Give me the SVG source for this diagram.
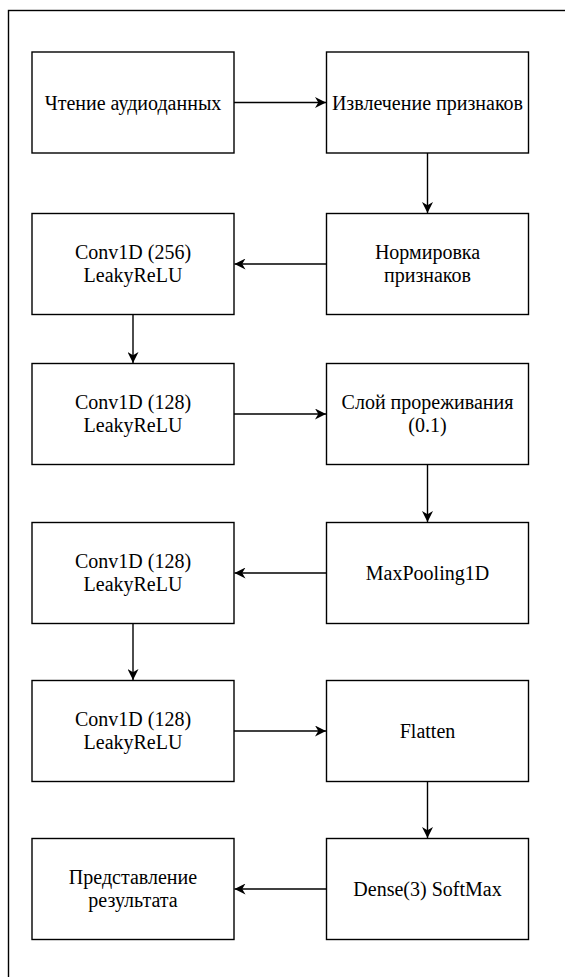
<svg xmlns="http://www.w3.org/2000/svg" width="565" height="977" viewBox="0 0 565 977">
<style>
.box{fill:#fff;stroke:#000;stroke-width:1.4}
.lbl{font-family:'Liberation Serif','DejaVu Serif',serif;font-size:20px;fill:#000;text-anchor:middle}
.edge{fill:none;stroke:#000;stroke-width:1.4}
</style>
<defs>
<marker id="arr" viewBox="0 0 10 10" refX="10" refY="5" markerWidth="12" markerHeight="11" markerUnits="userSpaceOnUse" orient="auto">
<path d="M0,0 L10,5 L0,10 L3,5 Z" fill="#000"/>
</marker>
</defs>
<rect x="0" y="0" width="565" height="977" fill="#fff"/>
<rect id="frame" x="8.5" y="10.5" width="600" height="1000" fill="none" stroke="#000" stroke-width="1.4"/>
<g id="n1"><rect class="box" x="32" y="52" width="202" height="101"/><text class="lbl" x="133" y="110">Чтение аудиоданных</text></g>
<g id="n2"><rect class="box" x="326.5" y="52" width="202" height="101"/><text class="lbl" x="427.5" y="110">Извлечение признаков</text></g>
<g id="n3"><rect class="box" x="326.5" y="213.5" width="202" height="101"/><text class="lbl" x="427.5" y="259">Нормировка</text><text class="lbl" x="427.5" y="282">признаков</text></g>
<g id="n4"><rect class="box" x="32" y="213.5" width="202" height="101"/><text class="lbl" x="133" y="259">Conv1D (256)</text><text class="lbl" x="133" y="282">LeakyReLU</text></g>
<g id="n5"><rect class="box" x="32" y="363.5" width="202" height="101"/><text class="lbl" x="133" y="409">Conv1D (128)</text><text class="lbl" x="133" y="432">LeakyReLU</text></g>
<g id="n6"><rect class="box" x="326.5" y="363.5" width="202" height="101"/><text class="lbl" x="427.5" y="409">Слой прореживания</text><text class="lbl" x="427.5" y="432">(0.1)</text></g>
<g id="n7"><rect class="box" x="326.5" y="522.5" width="202" height="101"/><text class="lbl" x="427.5" y="580">MaxPooling1D</text></g>
<g id="n8"><rect class="box" x="32" y="522.5" width="202" height="101"/><text class="lbl" x="133" y="568">Conv1D (128)</text><text class="lbl" x="133" y="591">LeakyReLU</text></g>
<g id="n9"><rect class="box" x="32" y="680.5" width="202" height="101"/><text class="lbl" x="133" y="726">Conv1D (128)</text><text class="lbl" x="133" y="749">LeakyReLU</text></g>
<g id="n10"><rect class="box" x="326.5" y="680.5" width="202" height="101"/><text class="lbl" x="427.5" y="738">Flatten</text></g>
<g id="n11"><rect class="box" x="326.5" y="838.5" width="202" height="101"/><text class="lbl" x="427.5" y="896">Dense(3) SoftMax</text></g>
<g id="n12"><rect class="box" x="32" y="838.5" width="202" height="101"/><text class="lbl" x="133" y="884">Представление</text><text class="lbl" x="133" y="907">результата</text></g>
<g id="edges">
<line class="edge" x1="234" y1="102.5" x2="326" y2="102.5" marker-end="url(#arr)"/>
<line class="edge" x1="427.5" y1="153" x2="427.5" y2="213" marker-end="url(#arr)"/>
<line class="edge" x1="326.5" y1="264" x2="234.5" y2="264" marker-end="url(#arr)"/>
<line class="edge" x1="133" y1="314.5" x2="133" y2="363" marker-end="url(#arr)"/>
<line class="edge" x1="234" y1="414" x2="326" y2="414" marker-end="url(#arr)"/>
<line class="edge" x1="427.5" y1="464.5" x2="427.5" y2="522" marker-end="url(#arr)"/>
<line class="edge" x1="326.5" y1="573" x2="234.5" y2="573" marker-end="url(#arr)"/>
<line class="edge" x1="133" y1="623.5" x2="133" y2="680" marker-end="url(#arr)"/>
<line class="edge" x1="234" y1="731" x2="326" y2="731" marker-end="url(#arr)"/>
<line class="edge" x1="427.5" y1="781.5" x2="427.5" y2="838" marker-end="url(#arr)"/>
<line class="edge" x1="326.5" y1="889" x2="234.5" y2="889" marker-end="url(#arr)"/>
</g>
</svg>
